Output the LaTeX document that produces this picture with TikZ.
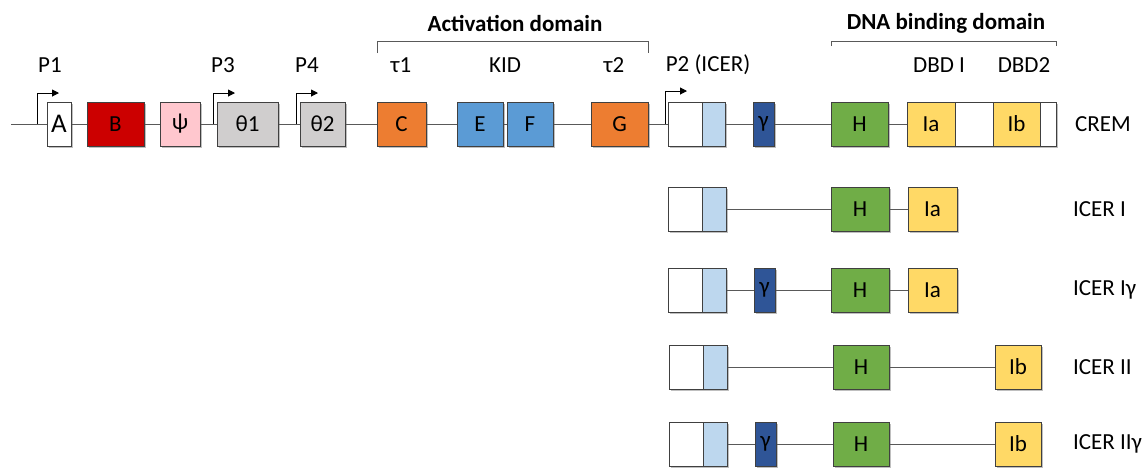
\documentclass[tikz,border=0pt]{standalone}
\usepackage{fontspec}
\setmainfont{Carlito}
\usetikzlibrary{arrows.meta,shadows}
\definecolor{bordc}{HTML}{404040}
\definecolor{linec}{HTML}{595959}
\definecolor{cB}{HTML}{CC0000}
\definecolor{cPsi}{HTML}{FFC7CE}
\definecolor{cTh}{HTML}{D0CECE}
\definecolor{cOr}{HTML}{ED7D31}
\definecolor{cBl}{HTML}{5B9BD5}
\definecolor{cLb}{HTML}{BDD7EE}
\definecolor{cGam}{HTML}{2F5597}
\definecolor{cGr}{HTML}{70AD47}
\definecolor{cYe}{HTML}{FFD966}
\tikzset{
  x=0.5pt, y=-0.5pt,
  every node/.style={font=\fontsize{11.5}{13}\selectfont, text=black},
  exon/.style={draw=bordc, line width=0.5pt, minimum height=22pt, inner sep=0pt, anchor=center,
    drop shadow={shadow xshift=1.2pt, shadow yshift=-1.2pt, opacity=0.25, fill=black}},
  w/.style={minimum width=#1*0.5pt},
  conn/.style={draw=linec, line width=0.5pt},
  prom/.style={draw=black, line width=0.5pt, -{Triangle[length=3.5pt,width=3.5pt]}},
  lbl/.style={anchor=center},
  rlbl/.style={anchor=west},
  ttl/.style={font=\fontsize{11.5}{13}\selectfont\bfseries},
  brk/.style={draw=linec, line width=0.5pt},
}
\begin{document}
\begin{tikzpicture}
\useasboundingbox (0,0) rectangle (1147,468);
% ---- titles and brackets
\node[ttl] (tact) at (515,23) {Activation domain};
\node[ttl] (tdna) at (946,23) {DNA binding domain};
\coordinate (ab1) at (377,53); \coordinate (ab2) at (377,41);
\coordinate (ab3) at (648,41); \coordinate (ab4) at (648,53);
\draw[brk] (ab1) -- (ab2) -- (ab3) -- (ab4);
\coordinate (db1) at (831,46); \coordinate (db2) at (831,41);
\coordinate (db3) at (1056,41); \coordinate (db4) at (1056,46);
\draw[brk] (db1) -- (db2) -- (db3) -- (db4);
% ---- labels
\node[lbl] (lP1) at (50,65) {P1};
\node[lbl] (lP3) at (223,65) {P3};
\node[lbl] (lP4) at (307,65) {P4};
\node[lbl] (lt1) at (401,65) {τ1};
\node[lbl] (lkid) at (505,65) {KID};
\node[lbl] (lt2) at (614,65) {τ2};
\node[lbl] (lP2) at (708,65) {P2 (ICER)};
\node[lbl] (ldbd1) at (939,65) {DBD I};
\node[lbl] (ldbd2) at (1024,65) {DBD2};
% ---- CREM row
\coordinate (s1) at (11,124);
\node[exon,w=24,fill=white,font=\fontsize{13.5}{15}\selectfont] (A) at (59,124) {A};
\node[exon,w=57,fill=cB] (B) at (115.5,124) {B};
\node[exon,w=40,fill=cPsi] (psi) at (180,124) {ψ};
\node[exon,w=61,fill=cTh] (th1) at (247.5,124) {θ1};
\node[exon,w=45,fill=cTh] (th2) at (322.5,124) {θ2};
\node[exon,w=49,fill=cOr] (C) at (401.5,124) {C};
\node[exon,w=46,fill=cBl] (E) at (480,124) {E};
\node[exon,w=46,fill=cBl] (F) at (530,124) {F};
\node[exon,w=57,fill=cOr] (G) at (619.5,124) {G};
\node[exon,w=34,fill=white] (W1) at (685,124) {};
\node[exon,w=23,fill=cLb] (L1) at (713.5,124) {};
\node[exon,w=21,fill=cGam] (g1) at (763.5,124) {γ};
\node[exon,w=57,fill=cGr] (H1) at (859.5,124) {H};
\node[exon,w=48,fill=cYe] (Ia1) at (931,124) {Ia};
\node[exon,w=38,fill=white] (X1) at (974,124) {};
\node[exon,w=47,fill=cYe] (Ib1) at (1016.5,124) {Ib};
\node[exon,w=16,fill=white] (Z1) at (1048,124) {};
\node[rlbl] (rCREM) at (1068,124) {CREM};
\draw[conn] (s1) -- (A.west);
\draw[conn] (A) -- (B); \draw[conn] (B) -- (psi); \draw[conn] (psi) -- (th1);
\draw[conn] (th1) -- (th2); \draw[conn] (th2) -- (C); \draw[conn] (C) -- (E);
\draw[conn] (E) -- (F); \draw[conn] (F) -- (G); \draw[conn] (G) -- (W1);
\draw[conn] (L1) -- (g1); \draw[conn] (g1) -- (H1); \draw[conn] (H1) -- (Ia1);
% promoter arrows
\coordinate (p1s) at (37,124); \coordinate (p1e) at (59,93);
\draw[prom] (p1s) |- (p1e);
\coordinate (p3s) at (213,124); \coordinate (p3e) at (235,93);
\draw[prom] (p3s) |- (p3e);
\coordinate (p4s) at (296,124); \coordinate (p4e) at (318,93);
\draw[prom] (p4s) |- (p4e);
\coordinate (p2s) at (665,124); \coordinate (p2e) at (687,91);
\draw[prom] (p2s) |- (p2e);
% ---- ICER I
\node[exon,w=34,fill=white] (W2) at (685,209) {};
\node[exon,w=24,fill=cLb] (L2) at (714,209) {};
\node[exon,w=58,fill=cGr] (H2) at (860,209) {H};
\node[exon,w=49,fill=cYe] (Ia2) at (932.5,209) {Ia};
\node[rlbl] (rI) at (1066,209) {ICER I};
\draw[conn] (L2) -- (H2); \draw[conn] (H2) -- (Ia2);
% ---- ICER Igamma
\node[exon,w=34,fill=white] (W3) at (685,290) {};
\node[exon,w=24,fill=cLb] (L3) at (714,290) {};
\node[exon,w=21,fill=cGam] (g3) at (764.5,290) {γ};
\node[exon,w=58,fill=cGr] (H3) at (860,290) {H};
\node[exon,w=49,fill=cYe] (Ia3) at (932.5,290) {Ia};
\node[rlbl] (rIg) at (1066,290) {ICER Iγ};
\draw[conn] (L3) -- (g3); \draw[conn] (g3) -- (H3); \draw[conn] (H3) -- (Ia3);
% ---- ICER II
\node[exon,w=34,fill=white] (W4) at (686,367) {};
\node[exon,w=24,fill=cLb] (L4) at (715,367) {};
\node[exon,w=56,fill=cGr] (H4) at (861,367) {H};
\node[exon,w=46,fill=cYe] (Ib4) at (1018,367) {Ib};
\node[rlbl] (rII) at (1066,367) {ICER II};
\draw[conn] (L4) -- (H4); \draw[conn] (H4) -- (Ib4);
% ---- ICER IIgamma
\node[exon,w=34,fill=white] (W5) at (686,444) {};
\node[exon,w=24,fill=cLb] (L5) at (715,444) {};
\node[exon,w=21,fill=cGam] (g5) at (765.5,444) {γ};
\node[exon,w=56,fill=cGr] (H5) at (861,444) {H};
\node[exon,w=46,fill=cYe] (Ib5) at (1018,444) {Ib};
\node[rlbl] (rIIg) at (1066,444) {ICER IIγ};
\draw[conn] (L5) -- (g5); \draw[conn] (g5) -- (H5); \draw[conn] (H5) -- (Ib5);
\end{tikzpicture}
\end{document}
